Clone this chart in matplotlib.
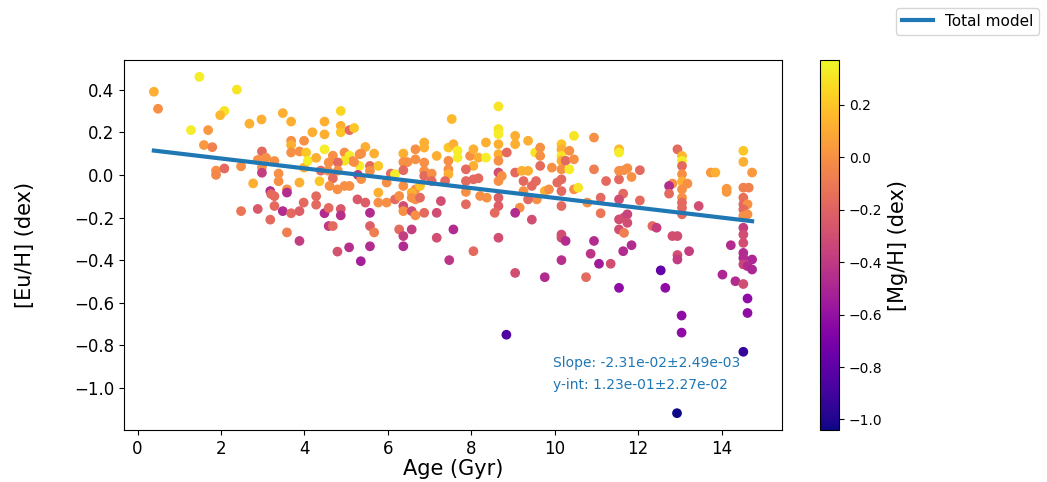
import numpy as np
import matplotlib
matplotlib.use("Agg")
import matplotlib.pyplot as plt

# Stellar ages (Gyr), [Eu/H] and [Mg/H] (dex)
age = [
    0.39, 0.49, 1.48, 1.28, 2.08, 1.98, 1.69, 1.59, 1.79, 1.88, 2.08, 1.88, 2.38,
    2.68, 2.97, 3.48, 3.68, 4.48, 4.87, 4.19, 4.48, 4.87, 4.87, 5.08, 3.68, 3.99,
    3.68, 4.48, 3.68, 3.88, 4.04, 2.98, 2.88, 3.08, 2.98, 2.98, 3.28, 2.48, 2.77,
    3.38, 3.38, 3.88, 3.99, 4.08, 4.28, 4.39, 4.58, 4.68, 4.96, 5.08, 5.16, 4.96,
    4.80, 4.56, 4.80, 4.36, 4.68, 4.60, 4.79, 4.96, 5.08, 5.32, 5.32, 5.28, 3.58,
    3.58, 3.18, 3.20, 3.28, 3.98, 4.28, 4.28, 2.48, 2.88, 3.28, 3.48, 3.68, 3.88,
    3.18, 3.58, 3.88, 4.48, 4.58, 4.58, 4.68, 4.87, 4.87, 5.27, 4.79, 5.07, 5.35,
    5.19, 7.53, 5.46, 5.36, 5.67, 5.19, 5.57, 5.77, 5.57, 5.36, 6.37, 6.37, 6.47,
    6.66, 6.66, 6.87, 6.87, 6.87, 6.87, 6.87, 7.05, 7.17, 7.45, 7.57, 7.67, 7.67,
    7.45, 7.45, 7.45, 7.97, 8.05, 8.17, 8.05, 7.87, 7.87, 8.05, 8.17, 7.87, 7.87,
    8.21, 6.07, 6.17, 5.97, 6.37, 6.37, 6.66, 6.77, 7.05, 7.37, 5.77, 5.77, 5.97,
    6.17, 6.27, 6.57, 6.57, 6.66, 6.77, 6.37, 6.37, 6.57, 6.66, 6.87, 7.17, 7.27,
    5.46, 5.57, 5.57, 5.67, 6.27, 6.37, 6.57, 7.17, 7.57, 5.57, 6.37, 7.47, 8.05,
    8.65, 8.65, 8.65, 8.65, 8.65, 8.65, 8.65, 8.65, 8.65, 8.65, 8.56, 8.35, 8.35,
    8.37, 8.73, 8.85, 9.05, 9.05, 9.36, 9.05, 9.21, 9.36, 9.25, 9.45, 9.55, 9.25,
    9.53, 9.65, 9.65, 9.65, 9.93, 9.76, 9.86, 9.57, 9.36, 9.16, 9.05, 9.45, 10.16,
    10.16, 10.16, 10.16, 10.16, 10.16, 10.16, 10.16, 10.06, 10.26, 10.35, 10.35,
    10.46, 10.46, 10.46, 10.56, 10.94, 10.94, 11.10, 11.10, 10.78, 8.65, 10.16,
    10.16, 10.26, 10.94, 10.86, 10.16,
    11.54, 11.54, 11.23, 11.54, 11.54, 11.66, 11.74, 11.84, 12.04, 11.64, 11.54,
    12.04, 11.54, 11.66, 11.74, 11.74, 11.54, 11.66, 12.34, 12.44, 12.94, 13.05,
    13.05, 13.05, 13.05, 13.05, 13.05, 13.05, 13.05, 13.05, 13.05, 12.82, 12.74,
    12.74, 13.18, 13.45, 12.82, 12.94, 12.94, 12.94, 13.22, 11.84, 11.64,
    14.52, 14.52, 14.73, 13.74, 13.85, 14.12, 14.12, 14.52, 14.65, 14.52, 14.52,
    14.62, 14.52, 14.62, 14.52, 14.52, 14.52, 14.52, 14.22, 14.52, 14.52, 14.73,
    14.52, 14.62, 14.73, 14.02, 14.33, 14.52, 14.62, 14.62, 14.52,
    11.06, 11.34, 9.76, 10.75, 11.54, 12.65, 12.54, 8.84, 12.93, 13.04, 13.04, 9.05,
]
eu_h = [
    0.39, 0.31, 0.46, 0.21, 0.30, 0.28, 0.21, 0.14, 0.13, 0.02, 0.03, 0.00, 0.40,
    0.24, 0.26, 0.29, 0.25, 0.25, 0.30, 0.20, 0.19, 0.23, 0.20, 0.21, 0.16, 0.16,
    0.14, 0.12, 0.105, 0.11, 0.105, 0.11, 0.07, 0.08, 0.035, 0.01, 0.065, 0.04, -0.04,
    0.006, -0.03, -0.036, 0.034, 0.066, 0.08, 0.02, 0.058, 0.09, 0.105, 0.09, 0.065, 0.066,
    0.058, 0.02, 0.02, -0.03, -0.016, -0.052, -0.068, -0.052, -0.052, 0.097, 0.042, 0.0, -0.068,
    -0.083, -0.076, -0.09, -0.10, -0.13, -0.10, -0.14, -0.17, -0.16, -0.146, -0.17, -0.18, -0.17,
    -0.21, -0.27, -0.31, -0.18, -0.155, -0.24, -0.24, -0.16, -0.19, -0.115, -0.36, -0.34, -0.405,
    0.22, 0.262, 0.131, 0.10, 0.10, 0.06, 0.042, 0.042, 0.019, -0.02, 0.10, 0.06, 0.06,
    0.12, 0.073, 0.152, 0.128, 0.058, 0.019, -0.005, 0.006, 0.089, 0.128, 0.144, 0.113, 0.081,
    0.066, 0.026, 0.003, 0.089, 0.12, 0.081, 0.042, 0.026, -0.029, -0.021, -0.016, -0.08, -0.138,
    -0.099, 0.006, 0.003, -0.036, 0.022, -0.052, -0.068, -0.052, -0.029, -0.029, -0.083, -0.13, -0.13,
    -0.115, -0.099, -0.083, -0.107, -0.115, -0.107, -0.146, -0.17, -0.17, -0.19, -0.178, -0.178, -0.123,
    -0.13, -0.178, -0.24, -0.27, -0.256, -0.287, -0.256, -0.295, -0.256, -0.335, -0.335, -0.40, -0.358,
    0.321, 0.215, 0.191, 0.144, 0.097, 0.066, 0.011, -0.029, -0.107, -0.146, -0.178, 0.152, 0.081,
    -0.107, -0.005, 0.105, 0.183, 0.144, 0.16, 0.011, 0.019, 0.019, -0.029, -0.052, -0.029, -0.076,
    0.105, 0.128, 0.089, 0.042, 0.034, -0.076, -0.068, -0.115, -0.115, -0.154, -0.178, -0.21, 0.144,
    0.12, 0.089, 0.066, 0.026, -0.021, -0.076, -0.146, -0.036, 0.066, 0.113, 0.026,
    0.073, 0.183, -0.068, -0.06, 0.175, 0.026, -0.107, -0.18, -0.13, -0.295, -0.28,
    -0.295, -0.31, -0.31, -0.37, -0.40,
    0.12, 0.105, -0.029, -0.021, 0.019, 0.022, 0.031, -0.01, 0.022, -0.088, -0.115,
    -0.12, -0.209, -0.20, -0.185, -0.225, -0.256, -0.272, -0.24, -0.248, 0.12, 0.089,
    0.066, 0.042, 0.003, -0.031, -0.068, -0.107, -0.13, -0.154, -0.185, -0.041, -0.052,
    -0.088, -0.041, -0.146, -0.287, -0.287, -0.376, -0.397, -0.358, -0.33, -0.358,
    0.113, 0.061, 0.011, 0.011, 0.011, -0.065, -0.08, -0.06, -0.06, -0.107, -0.138,
    -0.138, -0.162, -0.185, -0.193, -0.248, -0.28, -0.319, -0.33, -0.366, -0.39, -0.397,
    -0.42, -0.428, -0.444, -0.468, -0.499, -0.512, -0.58, -0.648, -0.83,
    -0.417, -0.417, -0.48, -0.48, -0.53, -0.53, -0.448, -0.75, -1.118, -0.66, -0.74, -0.46,
]
mg_h = [
    0.12, 0.0, 0.33, 0.33, 0.30, 0.15, 0.03, 0.03, -0.07, 0.0, -0.17, -0.04, 0.30,
    0.12, 0.12, 0.12, 0.12, 0.12, 0.25, 0.12, 0.12, 0.12, 0.20, -0.17, 0.0, 0.0,
    0.12, 0.33, 0.0, 0.0, 0.20, -0.17, 0.0, 0.0, 0.0, -0.38, 0.0, 0.0, 0.12,
    0.0, 0.0, 0.12, 0.12, 0.33, 0.12, -0.17, 0.0, 0.0, 0.0, 0.33, 0.0, 0.30,
    -0.17, 0.0, 0.0, 0.20, -0.17, 0.0, 0.0, 0.0, 0.0, 0.0, 0.33, -0.40, 0.0,
    -0.47, -0.47, -0.17, -0.17, -0.17, -0.17, -0.17, -0.12, -0.25, -0.17, -0.47, -0.17, -0.22,
    -0.17, -0.08, -0.38, -0.47, -0.17, -0.40, -0.17, -0.25, -0.45, -0.25, -0.28, -0.45, -0.53,
    0.20, 0.15, 0.12, 0.0, 0.12, 0.0, -0.17, 0.20, 0.0, 0.0, 0.12, 0.0, 0.0,
    0.0, 0.0, 0.12, 0.12, 0.0, 0.0, -0.17, 0.0, 0.12, 0.20, 0.12, 0.33, 0.33,
    0.0, 0.0, 0.12, 0.0, 0.12, 0.12, 0.12, -0.17, -0.17, -0.17, -0.17, 0.0, -0.17,
    0.0, -0.17, 0.33, 0.0, -0.17, 0.0, 0.0, 0.20, -0.17, -0.17, 0.12, 0.0, 0.0,
    -0.17, 0.0, 0.12, 0.0, 0.0, -0.17, -0.30, 0.0, -0.30, 0.0, -0.17, -0.30, -0.30,
    -0.22, -0.47, -0.22, -0.08, -0.17, -0.38, -0.38, -0.30, -0.47, -0.47, -0.47, -0.42, -0.17,
    0.30, 0.30, 0.33, 0.12, 0.12, 0.0, -0.30, 0.0, -0.22, -0.22, -0.17, 0.12, 0.33,
    0.0, 0.0, -0.17, 0.12, 0.12, 0.12, -0.17, 0.12, 0.12, -0.17, -0.17, -0.17, 0.0,
    0.30, 0.0, 0.0, -0.17, 0.0, 0.12, 0.0, 0.0, -0.17, 0.0, -0.47, -0.30, 0.20,
    0.12, 0.30, 0.12, 0.0, -0.17, -0.17, -0.17, -0.17, -0.17, 0.0, 0.33,
    0.0, 0.30, 0.0, 0.30, 0.0, -0.08, -0.17, -0.12, 0.0, -0.30, -0.30,
    -0.30, -0.47, -0.47, -0.42, -0.45,
    0.15, 0.33, -0.17, -0.17, 0.0, 0.0, 0.0, 0.0, -0.17, -0.17, -0.30,
    -0.17, -0.30, -0.30, -0.35, -0.30, -0.30, -0.08, -0.17, -0.38, -0.17, 0.15,
    0.33, -0.17, 0.0, 0.12, 0.0, 0.0, -0.17, -0.17, -0.17, 0.0, -0.47,
    -0.17, 0.0, -0.30, -0.30, -0.30, -0.30, -0.38, -0.38, -0.47, -0.47,
    0.20, 0.12, 0.03, 0.03, 0.12, 0.03, 0.03, -0.07, -0.07, -0.14, -0.17,
    0.0, -0.17, 0.0, 0.0, -0.38, -0.30, -0.30, -0.47, -0.47, -0.47, -0.50,
    -0.35, -0.47, -0.50, -0.50, -0.47, -0.30, -0.62, -0.62, -0.93,
    -0.55, -0.30, -0.47, -0.17, -0.62, -0.62, -0.78, -0.85, -1.04, -0.62, -0.62, -0.30,
]

# Linear fit of [Eu/H] against age
slope, slope_err = -2.31e-02, 2.49e-03
yint, yint_err = 1.23e-01, 2.27e-02

age = np.asarray(age)
eu_h = np.asarray(eu_h)
mg_h = np.asarray(mg_h)

fig = plt.figure(figsize=(10.47, 4.82), dpi=100)
ax = fig.add_axes([0.1184, 0.1079, 0.6285, 0.7676])
cax = fig.add_axes([0.7832, 0.1079, 0.0182, 0.7676])

sc = ax.scatter(age, eu_h, c=mg_h, cmap="plasma", vmin=-1.04, vmax=0.37, s=36)
order = np.argsort(age)
ax.plot(age[order], yint + slope * age[order], color="#1f77b4", lw=3,
        label="Total model")

ax.text(9.95, -0.883, f"Slope: {slope:.2e}\u00b1{slope_err:.2e}",
        color="#1f77b4", fontsize=10, va="center")
ax.text(9.95, -0.988, f"y-int: {yint:.2e}\u00b1{yint_err:.2e}",
        color="#1f77b4", fontsize=10, va="center")

ax.set_xlabel("Age (Gyr)", fontsize=15, labelpad=1)
ax.set_ylabel("[Eu/H] (dex)", fontsize=15, labelpad=28)
ax.tick_params(labelsize=12)

cb = fig.colorbar(sc, cax=cax)
cb.set_label("[Mg/H] (dex)", fontsize=15)
cb.ax.tick_params(labelsize=10)

fig.legend(loc="upper right", fontsize=11)

fig.savefig("out.png", dpi=100)
